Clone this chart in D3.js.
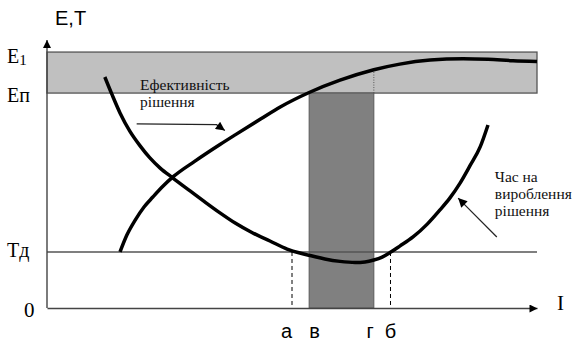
<!DOCTYPE html>
<html>
<head>
<meta charset="utf-8">
<script src="https://cdn.jsdelivr.net/npm/d3@7"></script>
<style>
  body { margin: 0; background: #fff; }
  svg { display: block; }
</style>
</head>
<body>
<div id="chart"></div>
<script>
// levels on the E,T axis
const levelE1 = 95.5;
const levelEp = 80.2;
const levelTd = 20.9;

// points on the I axis: а, в, г, б
const markNames = ["а", "в", "г", "б"];
const markI = [50, 53.5, 66.7, 70.1];
const markAnchor = ["end", "start", "end", "middle"];

// efficiency of the decision (E)
const effI = [14.9, 16.3, 18.0, 19.8, 21.6, 23.7, 25.7, 30.2, 35.3, 38.4, 43.5, 47.6, 53.5, 59.8, 66.7, 72.0, 78.2, 84.9, 90.0, 95.1, 100];
const effE = [20.9, 27.2, 32.8, 37.7, 41.4, 45.5, 48.9, 54.8, 61.0, 64.6, 70.4, 75.0, 80.4, 85.0, 88.9, 91.0, 92.5, 93.0, 92.8, 92.3, 92.0];

// time for making the decision (T)
const timeI = [11.8, 13.3, 14.9, 16.9, 19.0, 21.0, 23.1, 25.7, 29.2, 32.2, 35.3, 38.4, 42.0, 45.5, 49.0, 51.6, 53.7, 56.7, 59.8, 62.9, 64.9, 66.7, 68.4, 70.0, 72.0, 74.7, 77.6, 80.2, 82.2, 84.3, 86.3, 88.4, 90.0];
const timeT = [86.2, 79.5, 72.8, 66.0, 60.5, 56.0, 52.2, 48.5, 43.7, 39.6, 35.5, 31.7, 28.0, 25.0, 22.0, 20.5, 19.6, 18.3, 17.4, 17.0, 17.2, 17.9, 19.0, 20.7, 23.1, 26.5, 31.3, 36.6, 41.0, 46.6, 53.0, 60.1, 68.3];

const W = 579, H = 341;

const svg = d3.select("#chart")
  .append("svg")
  .attr("width", W)
  .attr("height", H);

const x = d3.scaleLinear().domain([0, 100]).range([47, 537]);
const y = d3.scaleLinear().domain([0, 100]).range([308, 40]);

// arrowheads
const defs = svg.append("defs");
defs.append("marker")
  .attr("id", "arr")
  .attr("viewBox", "0 0 10 10")
  .attr("refX", 10).attr("refY", 5)
  .attr("markerUnits", "userSpaceOnUse")
  .attr("markerWidth", 12).attr("markerHeight", 9)
  .attr("orient", "auto")
  .append("path")
  .attr("d", "M0,0L10,5L0,10z")
  .attr("fill", "#000");
defs.append("marker")
  .attr("id", "axarr")
  .attr("viewBox", "0 0 10 10")
  .attr("refX", 10).attr("refY", 5)
  .attr("markerUnits", "userSpaceOnUse")
  .attr("markerWidth", 11).attr("markerHeight", 8)
  .attr("orient", "auto")
  .append("path")
  .attr("d", "M0,0L10,5L0,10z")
  .attr("fill", "#000");

// grey band between E1 and Eп
svg.append("rect")
  .attr("x", x(0))
  .attr("y", y(levelE1))
  .attr("width", x(100) - x(0))
  .attr("height", y(levelEp) - y(levelE1))
  .attr("fill", "#c0c0c0")
  .attr("stroke", "#555")
  .attr("stroke-width", 1.3);

// dark zone в..г
svg.append("rect")
  .attr("x", x(markI[1]))
  .attr("y", y(levelEp))
  .attr("width", x(markI[2]) - x(markI[1]))
  .attr("height", y(0) - y(levelEp))
  .attr("fill", "#808080")
  .attr("stroke", "#5a5a5a")
  .attr("stroke-width", 1);

// dotted line at г inside the band
svg.append("line")
  .attr("x1", x(markI[2])).attr("x2", x(markI[2]))
  .attr("y1", y(levelEp)).attr("y2", y(88.9))
  .attr("stroke", "#555")
  .attr("stroke-width", 1)
  .attr("stroke-dasharray", "1,1.5");

// Tд line
svg.append("line")
  .attr("x1", x(0)).attr("x2", x(100))
  .attr("y1", y(levelTd)).attr("y2", y(levelTd))
  .attr("stroke", "#555")
  .attr("stroke-width", 1.3);

// dashed lines at а and б
svg.selectAll(".drop")
  .data([markI[0], markI[3]])
  .join("line")
  .attr("x1", d => x(d)).attr("x2", d => x(d))
  .attr("y1", y(levelTd)).attr("y2", y(0))
  .attr("stroke", "#000")
  .attr("stroke-width", 1)
  .attr("stroke-dasharray", "4,3");

// axes (no ticks, just the lines with arrows)
const xAxis = svg.append("g")
  .attr("transform", `translate(0,${y(0)})`)
  .call(d3.axisBottom(x).ticks(0).tickSizeOuter(0));
const yAxis = svg.append("g")
  .attr("transform", `translate(${x(0)},0)`)
  .call(d3.axisLeft(y).ticks(0).tickSizeOuter(0));
xAxis.select(".domain").attr("stroke", "#444").attr("stroke-width", 1.4).attr("marker-end", "url(#axarr)");
yAxis.select(".domain")
  .attr("d", `M0,${y(0)}V${y(100)}`)
  .attr("stroke", "#444").attr("stroke-width", 1.4).attr("marker-end", "url(#axarr)");

// curves
const line = d3.line()
  .x(d => x(d[0]))
  .y(d => y(d[1]))
  .curve(d3.curveMonotoneX);

svg.append("path")
  .datum(effI.map((v, i) => [v, effE[i]]))
  .attr("d", line)
  .attr("fill", "none")
  .attr("stroke", "#000")
  .attr("stroke-width", 3.5);

svg.append("path")
  .datum(timeI.map((v, i) => [v, timeT[i]]))
  .attr("d", line)
  .attr("fill", "none")
  .attr("stroke", "#000")
  .attr("stroke-width", 3.5);

// annotation arrows
const arrowLine = d3.line().x(d => x(d[0])).y(d => y(d[1]));
svg.append("path")
  .datum([[18.3, 68.7], [34.6, 68.4], [36.3, 66.2]])
  .attr("d", arrowLine)
  .attr("fill", "none")
  .attr("stroke", "#222")
  .attr("stroke-width", 1.2)
  .attr("marker-end", "url(#arr)");
svg.append("path")
  .datum([[91.8, 26.5], [83.9, 41.0]])
  .attr("d", arrowLine)
  .attr("fill", "none")
  .attr("stroke", "#222")
  .attr("stroke-width", 1.2)
  .attr("marker-end", "url(#arr)");

// text
const serif = "'Liberation Serif'";
const sans = "'Liberation Sans'";

svg.append("text")
  .attr("x", 55).attr("y", 25)
  .style("font-family", sans).style("font-size", "20px")
  .text("E,T");

const e1 = svg.append("text")
  .attr("x", 7).attr("y", y(levelE1) + 11)
  .style("font-family", serif).style("font-size", "20px");
e1.append("tspan").text("E");
e1.append("tspan").attr("dy", 2).style("font-size", "15px").text("1");

svg.append("text")
  .attr("x", 7).attr("y", y(levelEp) + 9)
  .style("font-family", serif).style("font-size", "20px")
  .text("Eп");

svg.append("text")
  .attr("x", 7).attr("y", y(levelTd) + 5)
  .style("font-family", serif).style("font-size", "20px")
  .text("Tд");

svg.append("text")
  .attr("x", 24).attr("y", y(0) + 9)
  .style("font-family", serif).style("font-size", "21px")
  .text("0");

svg.append("text")
  .attr("x", 557).attr("y", y(0) + 2)
  .style("font-family", serif).style("font-size", "21px")
  .text("I");

svg.selectAll(".mark")
  .data(markNames)
  .join("text")
  .attr("x", (d, i) => x(markI[i]))
  .attr("y", 338)
  .attr("text-anchor", (d, i) => markAnchor[i])
  .style("font-family", sans).style("font-size", "20px")
  .text(d => d);

svg.selectAll(".effLbl")
  .data(["Ефективність", "рішення"])
  .join("text")
  .attr("x", x(19))
  .attr("y", (d, i) => y(81.3) + i * 17)
  .style("font-family", serif).style("font-size", "15.5px")
  .attr("fill", "#111")
  .text(d => d);

svg.selectAll(".timeLbl")
  .data(["Час на", "вироблення", "рішення"])
  .join("text")
  .attr("x", x(91.4))
  .attr("y", (d, i) => y(47) + i * 17)
  .style("font-family", serif).style("font-size", "15.5px")
  .attr("fill", "#111")
  .text(d => d);
</script>
</body>
</html>
